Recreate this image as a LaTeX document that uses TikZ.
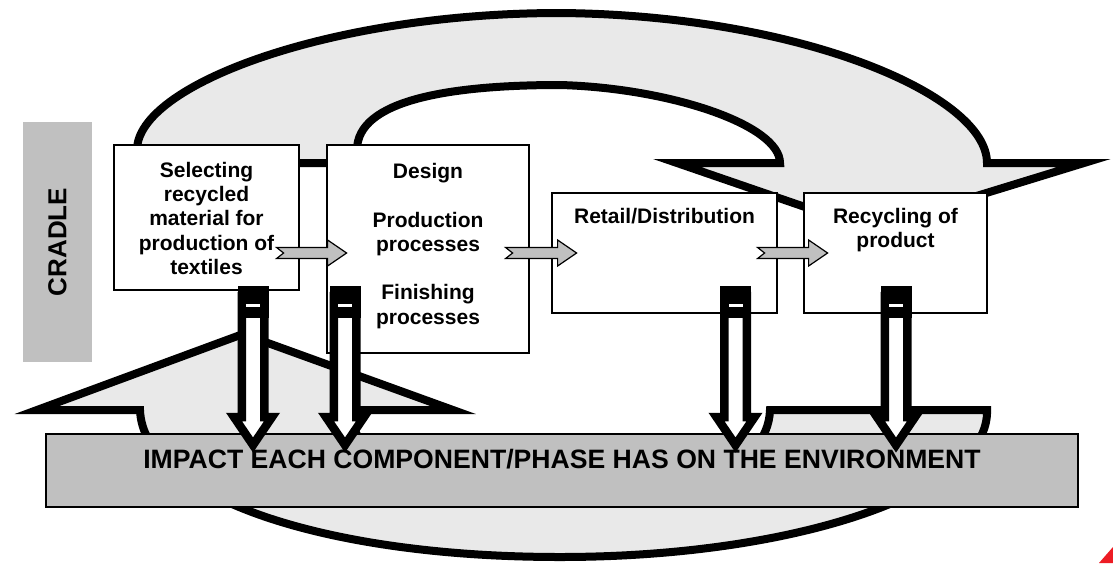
\documentclass[tikz,border=0pt]{standalone}
\usepackage{fontspec}
\setmainfont{Liberation Sans}
\usetikzlibrary{calc}
\definecolor{bandgray}{RGB}{233,233,233}
\definecolor{midgray}{RGB}{192,192,192}
\definecolor{cornerred}{RGB}{237,28,36}
% down arrow from a phase box into the impact bar; #1 = top-centre coordinate
\newcommand\impactarrow[1]{%
  \begin{scope}[shift={(#1)}]
    \draw[line width=8.5pt,fill=white,line join=miter,miter limit=10]
      (-11.25,10) -- (-11.25,131) -- (-19,131) -- (0,159) -- (19,131)
      -- (11.25,131) -- (11.25,10) -- cycle;
    \fill[black] (-15.5,0) rectangle (15.5,32);
    \fill[white] (-7,17.5) rectangle (7,20.5);
  \end{scope}}
% grey notched arrow; #1 = tail coordinate, #2 = length
\newcommand\grayarrow[2]{%
  \draw[garrow,shift={(#1)}] (0,-5.5) -- (#2-19,-5.5) -- (#2-19,-13) -- (#2,0)
    -- (#2-19,13) -- (#2-19,5.5) -- (0,5.5) -- (7,0) -- cycle;}
\begin{document}
\begin{tikzpicture}[x=1pt,y=-1pt,
  band/.style={fill=bandgray,draw=black,line width=8pt,line join=miter,miter limit=10},
  box/.style={draw=black,fill=white,line width=1.2pt,inner sep=0pt},
  boxtext/.style={font=\bfseries\fontsize{21}{24.3}\selectfont,align=center,inner sep=0pt,anchor=north},
  garrow/.style={draw=black,fill=midgray,line width=1.2pt,line join=miter},
]
\useasboundingbox (0,0) rectangle (1113,563);
\fill[white] (0,0) rectangle (1113,563);

% upper circular band arrow
\draw[band] (357,163) -- (137,163) -- (137,150)
  .. controls (137,85) and (330,13) .. (560,13)
  .. controls (800,15) and (987,95) .. (987,163)
  -- (1084,163) -- (869,229) -- (677,163) -- (780,163)
  .. controls (780,125) and (670,88) .. (560,85)
  .. controls (450,85) and (357,100) .. (357,150) -- cycle;

% lower circular band arrow
\draw[band] (770,410) -- (987,410)
  .. controls (990,490) and (800,557) .. (560,557)
  .. controls (320,557) and (143,495) .. (140,410)
  -- (37,410) -- (243,334) -- (453,410) -- (350,410)
  .. controls (352,470) and (450,502) .. (560,502)
  .. controls (680,502) and (768,470) .. (770,410) -- cycle;

% cradle
\node[fill=midgray,minimum width=69,minimum height=240,inner sep=0pt] (cradle) at (57.5,242) {};
\node[rotate=90,font=\bfseries\fontsize{26}{30}\selectfont,inner sep=0pt] (cradletext) at (cradle.center) {CRADLE};

% phase boxes
\node[box,minimum width=185,minimum height=145] (b1) at (206.5,217.5) {};
\node[box,minimum width=202,minimum height=208] (b2) at (428,249) {};
\node[box,minimum width=225,minimum height=120] (b3) at (664.5,253) {};
\node[box,minimum width=183,minimum height=120] (b4) at (895.5,253) {};

\node[boxtext] (t1) at (206.5,161.7) {Selecting\\recycled\\material for\\production of\\textiles};
\node[boxtext] (t2) at (428,163) {Design\\[24.3pt]Production\\processes\\[24.3pt]Finishing\\processes};
\node[boxtext] (t3) at (664.5,208) {Retail/Distribution};
\node[boxtext] (t4) at (895.5,208) {Recycling of\\product};

% impact bar
\node[draw=black,fill=midgray,line width=1.5pt,minimum width=1032,minimum height=73,inner sep=0pt] (bar) at (562,470.5) {};
\node[font=\bfseries\fontsize{26.6}{30}\selectfont,anchor=base,inner sep=0pt] (bartext) at (562,468) {IMPACT EACH COMPONENT/PHASE HAS ON THE ENVIRONMENT};

% down arrows
\coordinate (d1) at (253,286);
\coordinate (d2) at (345,286);
\coordinate (d3) at (735.5,286);
\coordinate (d4) at (896,286);
\impactarrow{d1}
\impactarrow{d2}
\impactarrow{d3}
\impactarrow{d4}

% grey flow arrows
\coordinate (ay) at (0,253);
\coordinate (g1) at ($(b1.east|-ay)+(-23,0)$);
\coordinate (g2) at ($(b2.east|-ay)+(-24,0)$);
\coordinate (g3) at ($(b3.east|-ay)+(-20,0)$);
\grayarrow{g1}{70}
\grayarrow{g2}{71}
\grayarrow{g3}{70}

% corner mark
\fill[cornerred] (1099,563) -- (1113,547) -- (1113,563) -- cycle;
\end{tikzpicture}
\end{document}
